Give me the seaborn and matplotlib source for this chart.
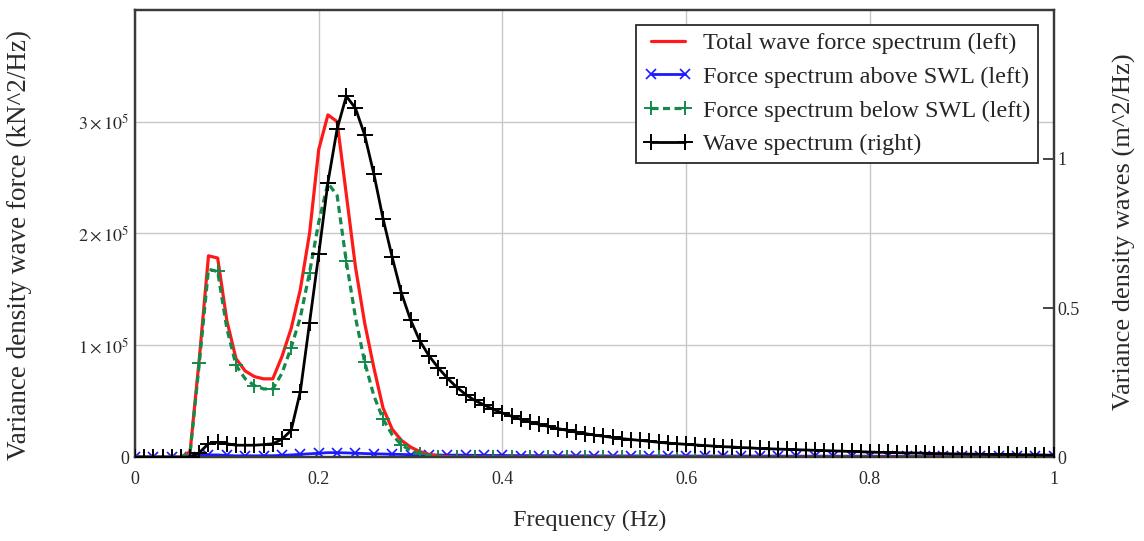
import numpy as np
import pandas as pd
import matplotlib
matplotlib.use('Agg')
import matplotlib.pyplot as plt
import seaborn as sns
from matplotlib.ticker import FixedLocator, FuncFormatter

sns.set_theme(style='white')
plt.rcParams['font.family'] = ['Liberation Serif', 'DejaVu Serif']
plt.rcParams['mathtext.fontset'] = 'stix'

# frequency grid (Hz), 0.01 step
freq = np.round(np.linspace(0, 1, 101), 2)

# total wave force spectrum, left axis, in 1e5 kN^2/Hz
total_force = [
    0, 0, 0, 0, 0, 0, 0.05, 0.88, 1.80, 1.78,
    1.22, 0.88, 0.77, 0.72, 0.70, 0.70, 0.90, 1.15, 1.50, 2.00,
    2.75, 3.06, 3.00, 2.35, 1.70, 1.20, 0.80, 0.44, 0.25, 0.15,
    0.09, 0.05, 0.025, 0.01, 0.005, 0, 0, 0, 0, 0,
    0, 0, 0, 0, 0, 0, 0, 0, 0, 0,
    0, 0, 0, 0, 0, 0, 0, 0, 0, 0,
    0, 0, 0, 0, 0, 0, 0, 0, 0, 0,
    0, 0, 0, 0, 0, 0, 0, 0, 0, 0,
    0, 0, 0, 0, 0, 0, 0, 0, 0, 0,
    0, 0, 0, 0, 0, 0, 0, 0, 0, 0,
    0,
]

# force spectrum above SWL, left axis, in 1e5 kN^2/Hz
above_swl = [
    0, 0, 0, 0, 0, 0, 0.005, 0.015, 0.02, 0.02,
    0.015, 0.012, 0.012, 0.012, 0.012, 0.013, 0.016, 0.02, 0.025, 0.03,
    0.035, 0.04, 0.04, 0.038, 0.035, 0.032, 0.03, 0.028, 0.026, 0.024,
    0.022, 0.021, 0.02, 0.019, 0.018, 0.018, 0.017, 0.016, 0.016, 0.015,
    0.015, 0.014, 0.014, 0.014, 0.013, 0.013, 0.013, 0.012, 0.012, 0.012,
    0.012, 0.011, 0.011, 0.011, 0.011, 0.011, 0.011, 0.011, 0.011, 0.011,
    0.011, 0.01, 0.01, 0.01, 0.01, 0.01, 0.01, 0.01, 0.01, 0.01,
    0.01, 0.009, 0.009, 0.009, 0.009, 0.009, 0.009, 0.009, 0.009, 0.009,
    0.009, 0.008, 0.008, 0.008, 0.008, 0.008, 0.008, 0.008, 0.008, 0.008,
    0.008, 0.007, 0.007, 0.007, 0.007, 0.007, 0.007, 0.007, 0.007, 0.007,
    0.007,
]

# force spectrum below SWL, left axis, in 1e5 kN^2/Hz
below_swl = [
    0, 0, 0, 0, 0, 0, 0.04, 0.84, 1.68, 1.66,
    1.15, 0.82, 0.70, 0.64, 0.61, 0.61, 0.75, 0.98, 1.25, 1.65,
    2.10, 2.45, 2.34, 1.75, 1.25, 0.85, 0.55, 0.34, 0.20, 0.11,
    0.06, 0.03, 0.015, 0.005, 0, 0, 0, 0, 0, 0,
    0, 0, 0, 0, 0, 0, 0, 0, 0, 0,
    0, 0, 0, 0, 0, 0, 0, 0, 0, 0,
    0, 0, 0, 0, 0, 0, 0, 0, 0, 0,
    0, 0, 0, 0, 0, 0, 0, 0, 0, 0,
    0, 0, 0, 0, 0, 0, 0, 0, 0, 0,
    0, 0, 0, 0, 0, 0, 0, 0, 0, 0,
    0,
]

# wave spectrum, right axis, m^2/Hz
wave_spec = [
    0, 0, 0, 0, 0, 0, 0, 0.015, 0.045, 0.05,
    0.045, 0.04, 0.04, 0.04, 0.042, 0.045, 0.06, 0.09, 0.22, 0.45,
    0.68, 0.92, 1.10, 1.21, 1.17, 1.08, 0.95, 0.80, 0.67, 0.55,
    0.46, 0.39, 0.34, 0.30, 0.265, 0.235, 0.21, 0.19, 0.175, 0.16,
    0.148, 0.137, 0.127, 0.118, 0.110, 0.103, 0.096, 0.090, 0.084, 0.079,
    0.074, 0.070, 0.066, 0.062, 0.059, 0.056, 0.053, 0.050, 0.047, 0.045,
    0.043, 0.041, 0.039, 0.037, 0.035, 0.034, 0.032, 0.031, 0.029, 0.028,
    0.027, 0.026, 0.025, 0.024, 0.023, 0.022, 0.021, 0.020, 0.019, 0.018,
    0.017, 0.016, 0.016, 0.015, 0.014, 0.014, 0.013, 0.012, 0.012, 0.011,
    0.011, 0.010, 0.010, 0.009, 0.009, 0.009, 0.008, 0.008, 0.008, 0.007,
    0.007,
]

labels = ['Total wave force spectrum (left)', 'Force spectrum above SWL (left)',
          'Force spectrum below SWL (left)', 'Wave spectrum (right)']

df = pd.DataFrame({
    'freq': freq,
    'total': np.array(total_force) * 1e5,
    'above': np.array(above_swl) * 1e5,
    'below': np.array(below_swl) * 1e5,
    'wave': wave_spec,
})

text_col = '#2a2a2a'
red, blue, green = '#ff1a1a', '#1a1aff', '#138a4c'

fig, ax = plt.subplots(figsize=(11.44, 5.41), dpi=100)
fig.subplots_adjust(left=0.118, right=0.921, top=0.982, bottom=0.155)
ax2 = ax.twinx()

sns.lineplot(data=df, x='freq', y='total', ax=ax, color=red, lw=2.3,
             label=labels[0], zorder=3)
sns.lineplot(data=df, x='freq', y='above', ax=ax, color=blue, lw=2.0,
             marker='x', markersize=7, markeredgewidth=1.2,
             markeredgecolor=blue, markevery=(0, 2),
             label=labels[1], zorder=2)
sns.lineplot(data=df, x='freq', y='below', ax=ax, color=green, lw=2.3,
             linestyle=(0, (2.2, 1.4)), marker='+', markersize=10,
             markeredgewidth=1.4, markeredgecolor=green, markevery=(1, 2),
             label=labels[2], zorder=4)
sns.lineplot(data=df, x='freq', y='wave', ax=ax2, color='black', lw=2.0,
             marker='+', markersize=11, markeredgewidth=1.4,
             markeredgecolor='black', label=labels[3], zorder=5)

ax.set_xlim(0, 1)
ax.set_ylim(0, 4.0e5)
ax2.set_ylim(0, 1.5)

ax.xaxis.set_major_locator(FixedLocator([0, 0.2, 0.4, 0.6, 0.8, 1.0]))
ax.set_xticklabels(['0', '0.2', '0.4', '0.6', '0.8', '1'])
ax.yaxis.set_major_locator(FixedLocator([0, 1e5, 2e5, 3e5]))
ax.yaxis.set_major_formatter(FuncFormatter(
    lambda v, p: '0' if v == 0 else r'$%d\times10^{5}$' % round(v / 1e5)))
ax2.yaxis.set_major_locator(FixedLocator([0, 0.5, 1.0]))
ax2.set_yticklabels(['0', '0.5', '1'])

ax.grid(True, color='#c8c8c8', lw=1.0)
ax2.grid(False)
ax.tick_params(axis='both', length=0, labelsize=13, labelcolor=text_col)
ax.tick_params(axis='x', pad=10)
ax.tick_params(axis='y', pad=4)
ax2.tick_params(axis='y', direction='in', length=8, width=1.2,
                labelsize=13, labelcolor=text_col, pad=3)

for a in (ax, ax2):
    for s in a.spines.values():
        s.set_color('#3a3a3a')
        s.set_linewidth(1.6)

ax.set_xlabel('Frequency (Hz)', fontsize=17.5, color=text_col)
ax.set_ylabel('Variance density wave force (kN^2/Hz)', fontsize=19.5, color=text_col)
ax2.set_ylabel('Variance density waves (m^2/Hz)', fontsize=19, color=text_col,
               rotation=90)
ax.xaxis.set_label_coords(0.495, -0.118)
ax.yaxis.set_label_coords(-0.112, 0.474)
ax2.yaxis.set_label_coords(1.064, 0.505)

# legend on top axis, collecting handles from both
h1, l1 = ax.get_legend_handles_labels()
h2, l2 = ax2.get_legend_handles_labels()
if ax.get_legend():
    ax.get_legend().remove()
if ax2.get_legend():
    ax2.get_legend().remove()
leg = ax2.legend(h1 + h2, l1 + l2, loc='upper right',
                 bbox_to_anchor=(0.9826, 0.966), fontsize=17.5, frameon=True,
                 fancybox=False, framealpha=1, edgecolor='#2a2a2a',
                 handlelength=2.0, handletextpad=0.45, labelspacing=0.48,
                 borderpad=0.3, borderaxespad=0, numpoints=2)
leg.get_frame().set_linewidth(1.3)

fig.savefig('out.png', dpi=100)
